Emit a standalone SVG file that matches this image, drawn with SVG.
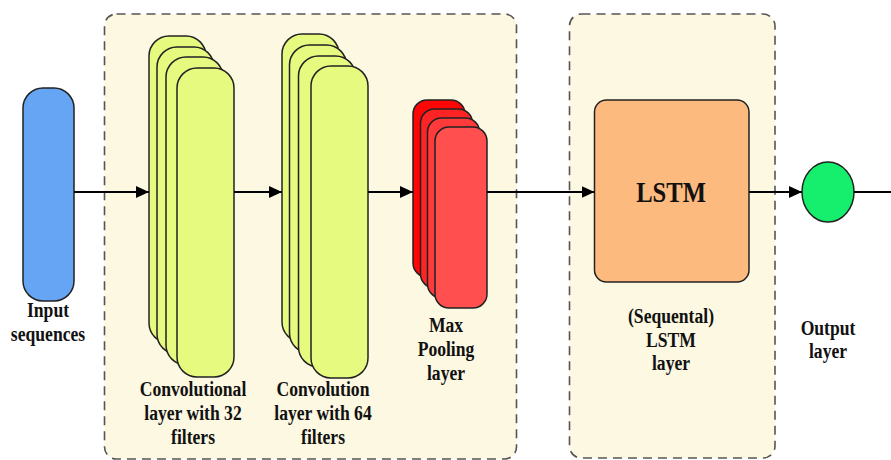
<svg xmlns="http://www.w3.org/2000/svg" width="891" height="460" viewBox="0 0 891 460">
<defs>
<marker id="ah" markerUnits="userSpaceOnUse" markerWidth="14" markerHeight="12" refX="13" refY="6" orient="auto">
<path d="M0,0 L13,6 L0,12 z" fill="#000"/>
</marker>
<style>
.grp{fill:#fcf8e1;stroke:#555;stroke-width:1.6;stroke-dasharray:9,6}
.conv{fill:#e6fa80;stroke:#222;stroke-width:1.5}
.pool{stroke:#222;stroke-width:1.5}
.lbl{font-family:"Liberation Serif","Times New Roman",serif;font-weight:bold;font-size:20px;fill:#111;text-anchor:middle}
.edge{stroke:#000;stroke-width:2;fill:none}
</style>
</defs>
<rect width="891" height="460" fill="#fff"/>
<g id="group-cnn"><rect class="grp" x="104.5" y="14" width="412" height="445" rx="12"/></g>
<g id="group-lstm"><rect class="grp" x="569.5" y="14" width="205.5" height="444" rx="12"/></g>

<g id="input">
<rect x="23" y="88" width="51" height="213" rx="20" fill="#66a4f4" stroke="#222" stroke-width="1.5"/>
<text class="lbl" transform="translate(48,0) scale(0.88,1)"><tspan x="0" y="317">Input</tspan><tspan x="0" y="341">sequences</tspan></text>
</g>

<g id="conv32">
<rect class="conv" x="149" y="36" width="57" height="307" rx="20"/>
<rect class="conv" x="157" y="47" width="57" height="307" rx="20"/>
<rect class="conv" x="166" y="57" width="57" height="308" rx="20"/>
<rect class="conv" x="177" y="68" width="57" height="309" rx="20"/>
<text class="lbl" transform="translate(193,0) scale(0.88,1)"><tspan x="0" y="396">Convolutional</tspan><tspan x="0" y="420">layer with 32</tspan><tspan x="0" y="444">filters</tspan></text>
</g>

<g id="conv64">
<rect class="conv" x="282" y="34" width="57" height="308" rx="20"/>
<rect class="conv" x="289.5" y="45" width="57" height="308" rx="20"/>
<rect class="conv" x="298.5" y="56" width="57" height="311" rx="20"/>
<rect class="conv" x="311" y="66" width="57" height="312" rx="20"/>
<text class="lbl" transform="translate(323,0) scale(0.88,1)"><tspan x="0" y="396">Convolution</tspan><tspan x="0" y="420">layer with 64</tspan><tspan x="0" y="444">filters</tspan></text>
</g>

<g id="maxpool">
<rect class="pool" x="413" y="100" width="52" height="177" rx="14" fill="#ff0606"/>
<rect class="pool" x="420.5" y="109" width="52" height="179" rx="14" fill="#ff2424"/>
<rect class="pool" x="427.5" y="118" width="52" height="180" rx="14" fill="#ff3a3a"/>
<rect class="pool" x="435" y="127" width="52" height="181" rx="14" fill="#ff4f4f"/>
<text class="lbl" transform="translate(446,0) scale(0.88,1)"><tspan x="0" y="332">Max</tspan><tspan x="0" y="356">Pooling</tspan><tspan x="0" y="380">layer</tspan></text>
</g>

<g id="lstm">
<rect x="594.5" y="100" width="154.5" height="182" rx="12" fill="#fdba7e" stroke="#222" stroke-width="1.5"/>
<text class="lbl" style="font-size:30px" transform="translate(671,0) scale(0.82,1)" x="0" y="202">LSTM</text>
<text class="lbl" transform="translate(671,0) scale(0.88,1)"><tspan x="0" y="323">(Sequental)</tspan><tspan x="0" y="347">LSTM</tspan><tspan x="0" y="370">layer</tspan></text>
</g>

<g id="output">
<ellipse cx="828" cy="192" rx="26" ry="30" fill="#16ef6e" stroke="#222" stroke-width="1.5"/>
<text class="lbl" transform="translate(828,0) scale(0.88,1)"><tspan x="0" y="335">Output</tspan><tspan x="0" y="358">layer</tspan></text>
</g>

<g id="connectors">
<line class="edge" x1="74" y1="192" x2="149" y2="192" marker-end="url(#ah)"/>
<line class="edge" x1="234" y1="192" x2="282" y2="192" marker-end="url(#ah)"/>
<line class="edge" x1="368" y1="192" x2="413" y2="192" marker-end="url(#ah)"/>
<line class="edge" x1="487" y1="192" x2="594.5" y2="192" marker-end="url(#ah)"/>
<line class="edge" x1="749" y1="192" x2="802" y2="192" marker-end="url(#ah)"/>
<line class="edge" x1="854" y1="192" x2="891" y2="192"/>
</g>
</svg>
